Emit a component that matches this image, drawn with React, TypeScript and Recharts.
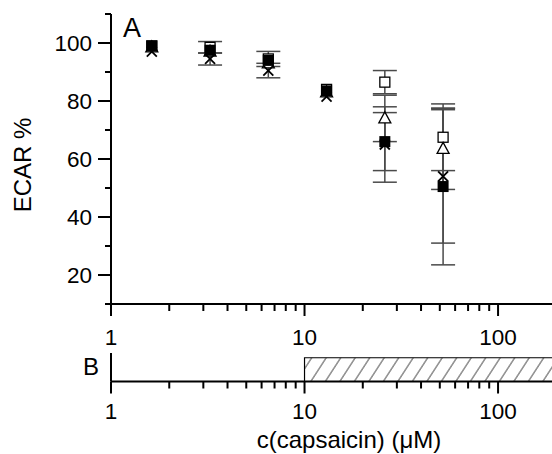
import React from 'react';
import { ComposedChart, Scatter, XAxis, YAxis, ErrorBar, ReferenceArea } from 'recharts';

// capsaicin concentrations (µM)
const concentrations = [1.625, 3.25, 6.5, 13, 26, 52];

// ECAR % per series (error 0 = bar hidden behind the marker)
const filledSquareValues = [99, 97.5, 94, 83.5, 66, 50.5];
const filledSquareErrors = [0, 0, 0, 0, 10, 27];
const openSquareValues = [99, 98.5, 94.5, 84, 86.5, 67.5];
const openSquareErrors = [0, 2, 2.6, 0, 4, 11.5];
const triangleValues = [98.5, 97, 93, 83, 74, 63.5];
const triangleErrors = [0, 0, 0, 0, 8, 14];
const crossValues = [97, 94.5, 90.5, 81.5, 65, 54];
const crossErrors = [0, 2.1, 2.5, 0, 13, 23];

// treatment window shown in panel B
const treatmentRange = [10, 220];

const xDomain = [1, 190];
const xTicks = [1, 2, 3, 4, 5, 6, 7, 8, 9, 10, 20, 30, 40, 50, 60, 70, 80, 90, 100];
const xLabelTicks = [1, 10, 100];
const yDomain = [10, 110];
const yTicks = [10, 20, 30, 40, 50, 60, 70, 80, 90, 100, 110];
const yLabelTicks = [20, 40, 60, 80, 100];

const FONT = '"Liberation Sans", Arial, sans-serif';
const TICK_FONT = 22.5;

const build = (vals: number[], errs: number[]) =>
  concentrations.map((c, i) => ({ x: c, y: vals[i], err: errs[i] }));

const filledData = build(filledSquareValues, filledSquareErrors);
const openData = build(openSquareValues, openSquareErrors);
const triData = build(triangleValues, triangleErrors);
const crossData = build(crossValues, crossErrors);
const bData = [{ x: 1, y: 0 }];

const FilledSquare = (p: any) => (
  <rect x={p.cx - 5.5} y={p.cy - 5.5} width={11} height={11} fill="#000" />
);
const OpenSquare = (p: any) => (
  <rect x={p.cx - 5} y={p.cy - 5} width={10} height={10} fill="#fff" stroke="#000" strokeWidth={1.3} />
);
const OpenTriangle = (p: any) => (
  <path
    d={`M${p.cx},${p.cy - 6.5} L${p.cx + 6},${p.cy + 4.5} L${p.cx - 6},${p.cy + 4.5} Z`}
    fill="#fff"
    stroke="#000"
    strokeWidth={1.3}
  />
);
const Cross = (p: any) => (
  <g stroke="#000" strokeWidth={1.8}>
    <line x1={p.cx - 5} y1={p.cy - 5} x2={p.cx + 5} y2={p.cy + 5} />
    <line x1={p.cx - 5} y1={p.cy + 5} x2={p.cx + 5} y2={p.cy - 5} />
  </g>
);

const XTick = (props: any) => {
  const { x, y, payload, labelOffset } = props;
  const major = xLabelTicks.includes(payload.value);
  return (
    <g>
      <line x1={x} x2={x} y1={y} y2={y + (major ? 12 : 7)} stroke="#000" strokeWidth={2} />
      {major && (
        <text x={x} y={y + labelOffset} textAnchor="middle" dominantBaseline="central" fontFamily={FONT} fontSize={TICK_FONT} fill="#000">
          {payload.value}
        </text>
      )}
    </g>
  );
};

const YTick = (props: any) => {
  const { x, y, payload } = props;
  const major = yLabelTicks.includes(payload.value);
  return (
    <g>
      <line x1={x - (major ? 13 : 6)} x2={x} y1={y} y2={y} stroke="#000" strokeWidth={2} />
      {major && (
        <text x={x - 19} y={y} textAnchor="end" dominantBaseline="central" fontFamily={FONT} fontSize={TICK_FONT} fill="#000">
          {payload.value}
        </text>
      )}
    </g>
  );
};

const errProps = { dataKey: 'err', direction: 'y' as const, width: 12, stroke: '#4a4a4a', strokeWidth: 1.5, isAnimationActive: false };

export default function App() {
  return (
    <div style={{ position: 'absolute', left: 0, top: 0, width: 552, height: 454, background: '#fff', overflow: 'hidden' }}>
      <svg width={0} height={0} style={{ position: 'absolute' }}>
        <defs>
          <pattern id="hatch" patternUnits="userSpaceOnUse" width={14.5} height={20} patternTransform="skewX(-33)">
            <line x1={1} y1={0} x2={1} y2={20} stroke="#333" strokeWidth={1} />
          </pattern>
        </defs>
      </svg>
      <div style={{ position: 'absolute', left: 0, top: 0 }}>
        <ComposedChart width={552} height={365} margin={{ top: 14, right: 0, bottom: 0, left: 0 }}>
          <XAxis
            dataKey="x"
            type="number"
            scale="log"
            domain={xDomain}
            allowDataOverflow
            ticks={xTicks}
            interval={0}
            tick={<XTick labelOffset={33} />}
            tickLine={false}
            tickSize={0}
            tickMargin={0}
            height={61}
            axisLine={{ stroke: '#000', strokeWidth: 2 }}
          />
          <YAxis
            dataKey="y"
            type="number"
            domain={yDomain}
            allowDataOverflow
            ticks={yTicks}
            interval={0}
            tick={<YTick />}
            tickLine={false}
            tickSize={0}
            tickMargin={0}
            width={111}
            axisLine={{ stroke: '#000', strokeWidth: 2 }}
          />
          <Scatter data={openData} shape={<OpenSquare />} isAnimationActive={false}>
            <ErrorBar {...errProps} />
          </Scatter>
          <Scatter data={triData} shape={<OpenTriangle />} isAnimationActive={false}>
            <ErrorBar {...errProps} />
          </Scatter>
          <Scatter data={crossData} shape={<Cross />} isAnimationActive={false}>
            <ErrorBar {...errProps} />
          </Scatter>
          <Scatter data={filledData} shape={<FilledSquare />} isAnimationActive={false}>
            <ErrorBar {...errProps} />
          </Scatter>
        </ComposedChart>
      </div>
      <div style={{ position: 'absolute', left: 0, top: 345 }}>
        <ComposedChart width={552} height={109} margin={{ top: 8, right: 0, bottom: 0, left: 0 }} data={bData}>
          <XAxis
            dataKey="x"
            type="number"
            scale="log"
            domain={xDomain}
            allowDataOverflow
            ticks={xTicks}
            interval={0}
            tick={<XTick labelOffset={30} />}
            tickLine={false}
            tickSize={0}
            tickMargin={0}
            height={72.5}
            axisLine={{ stroke: '#000', strokeWidth: 2 }}
          />
          <YAxis
            type="number"
            domain={[0, 1.2]}
            allowDataOverflow
            tick={false}
            tickLine={false}
            width={111}
            axisLine={{ stroke: '#000', strokeWidth: 2 }}
          />
          <ReferenceArea
            x1={treatmentRange[0]}
            x2={treatmentRange[1]}
            y1={0}
            y2={1}
            fill="url(#hatch)"
            fillOpacity={1}
            stroke="#000"
            strokeWidth={1.2}
            ifOverflow="hidden"
          />
        </ComposedChart>
      </div>
      <svg width={552} height={454} style={{ position: 'absolute', left: 0, top: 0, pointerEvents: 'none' }}>
        <text x={123} y={37} fontFamily={FONT} fontSize={27} fill="#000">A</text>
        <text x={83} y={375} fontFamily={FONT} fontSize={24} fill="#000">B</text>
        <text transform="translate(31,165) rotate(-90)" textAnchor="middle" fontFamily={FONT} fontSize={24} fill="#000">ECAR %</text>
        <text x={349} y={448} textAnchor="middle" fontFamily={FONT} fontSize={24} fill="#000">c(capsaicin) (μM)</text>
      </svg>
    </div>
  );
}
